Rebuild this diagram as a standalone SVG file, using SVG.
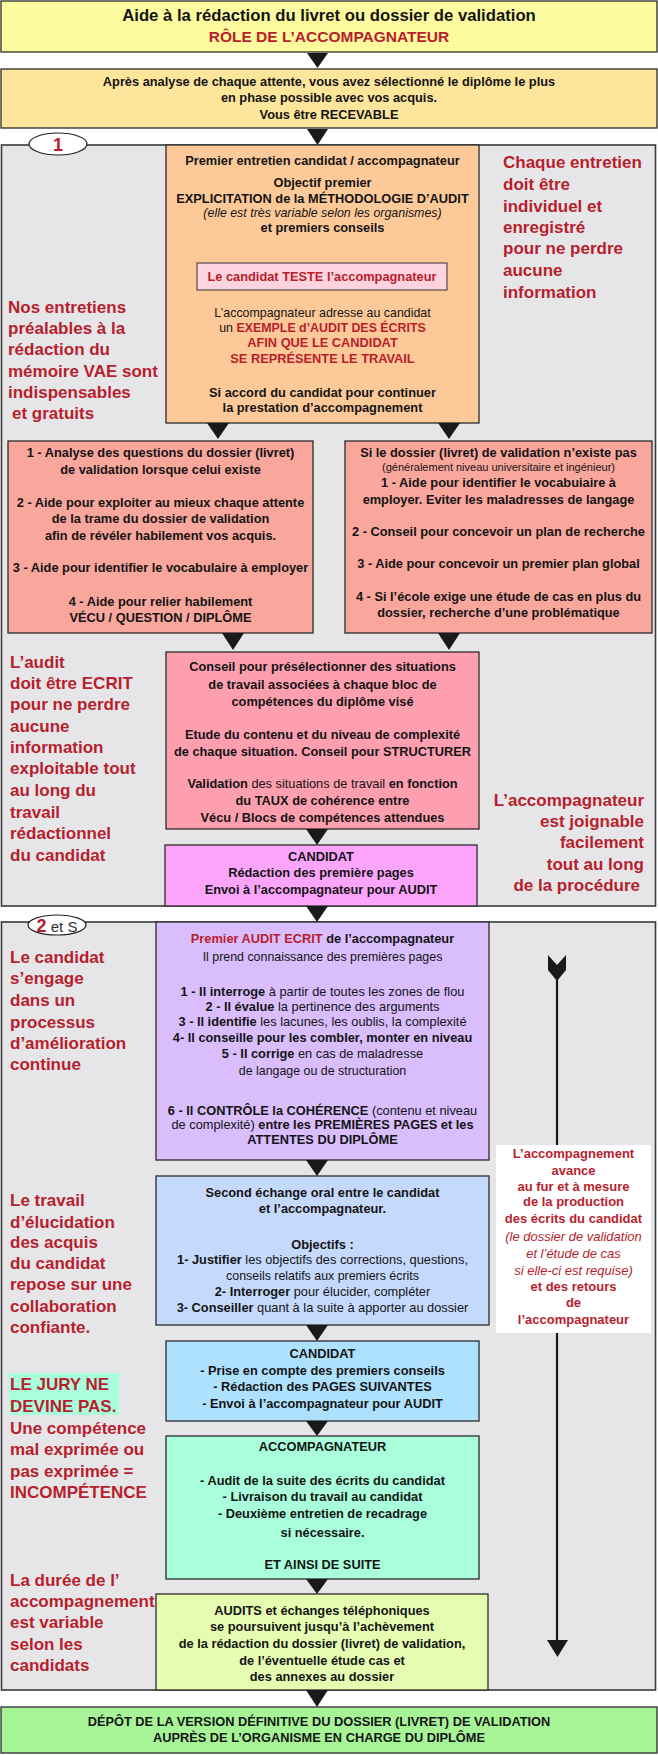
<svg xmlns="http://www.w3.org/2000/svg" width="658" height="1755" viewBox="0 0 658 1755">
<style>
text{font-family:'Liberation Sans',Arial,sans-serif;fill:#141414}
.b{font-size:12.8px;font-weight:bold;text-anchor:middle}
.n{font-size:12.4px;font-weight:normal;text-anchor:middle}
.s{font-size:17px;font-weight:bold;fill:#b81e2d}
.w{font-size:13px;font-weight:bold;fill:#b81e2d;text-anchor:middle}
.i{font-style:italic;font-weight:normal}
.red{fill:#b81e2d}
.rg{font-weight:normal}
.bd{font-weight:bold}
.box{stroke:#2b2b2b;stroke-width:1.3}
.sec{fill:#e6e6e8;stroke:#3a3a3a;stroke-width:1.6}
.arr{fill:#1a1a1a}
</style>

<g id="title">
<rect class="box" x="1" y="1" width="656" height="51" fill="#fdfb9e"/>
<text x="329" y="21" style="font-size:16.7px;font-weight:bold;text-anchor:middle">Aide à la rédaction du livret ou dossier de validation</text>
<text x="329" y="42" class="red" style="font-size:15.5px;font-weight:bold;text-anchor:middle">RÔLE DE L’ACCOMPAGNATEUR</text>
</g>

<g id="recevable">
<rect class="box" x="1" y="69" width="656" height="59" fill="#fde59c"/>
<text class="b" x="329" y="86">Après analyse de chaque attente, vous avez sélectionné le diplôme le plus</text>
<text class="b" x="329" y="102">en phase possible avec vos acquis.</text>
<text class="b" x="329" y="119">Vous être RECEVABLE</text>
</g>

<g id="section1">
<rect class="sec" x="1.5" y="145" width="654" height="761"/>
<ellipse cx="58" cy="144" rx="29" ry="11" fill="#fff" stroke="#222" stroke-width="1.2"/>
<text x="58" y="151" class="red" style="font-size:18px;font-weight:bold;text-anchor:middle">1</text>
</g>

<g id="note-entretiens">
<text class="s" x="8" y="313">Nos entretiens</text>
<text class="s" x="8" y="334">préalables à la</text>
<text class="s" x="8" y="355">rédaction du</text>
<text class="s" x="8" y="377">mémoire VAE sont</text>
<text class="s" x="8" y="398">indispensables</text>
<text class="s" x="12" y="419">et  gratuits</text>
</g>

<g id="note-chaque">
<text class="s" x="503" y="168">Chaque entretien</text>
<text class="s" x="503" y="190">doit être</text>
<text class="s" x="503" y="212">individuel et</text>
<text class="s" x="503" y="233">enregistré</text>
<text class="s" x="503" y="254">pour ne perdre</text>
<text class="s" x="503" y="276">aucune</text>
<text class="s" x="503" y="298">information</text>
</g>

<g id="premier-entretien">
<rect class="box" x="166" y="145" width="313" height="278" fill="#fdc998"/>
<text class="b" x="322.5" y="165">Premier entretien candidat / accompagnateur</text>
<text class="b" x="322.5" y="187">Objectif premier</text>
<text class="b" x="322.5" y="203">EXPLICITATION de la MÉTHODOLOGIE D’AUDIT</text>
<text class="n i" x="322.5" y="217">(elle est très variable selon les organismes)</text>
<text class="b" x="322.5" y="232">et premiers conseils</text>
<rect x="197" y="263" width="250" height="27" fill="#fcd3de" stroke="#333" stroke-width="1"/>
<text class="b red" x="322" y="281">Le candidat TESTE l’accompagnateur</text>
<text class="n" x="322.5" y="317">L’accompagnateur adresse au candidat</text>
<text class="n" x="322.5" y="332">un <tspan class="red bd">EXEMPLE d’AUDIT DES ÉCRITS</tspan></text>
<text class="b red" x="322.5" y="347">AFIN QUE LE CANDIDAT</text>
<text class="b red" x="322.5" y="363">SE REPRÉSENTE LE TRAVAIL</text>
<text class="b" x="322.5" y="397">Si accord du candidat  pour continuer</text>
<text class="b" x="322.5" y="412">la prestation d’accompagnement</text>
</g>

<g id="avec-livret">
<rect class="box" x="8" y="441" width="305" height="192" fill="#f9a69c"/>
<text class="b" x="160.5" y="457">1 - Analyse des questions du dossier (livret)</text>
<text class="b" x="160.5" y="474">de validation lorsque celui existe</text>
<text class="b" x="160.5" y="507">2 - Aide pour exploiter au mieux chaque attente</text>
<text class="b" x="160.5" y="523">de la trame du dossier de validation</text>
<text class="b" x="160.5" y="540">afin de révéler habilement vos acquis.</text>
<text class="b" x="160.5" y="572">3 - Aide pour identifier le vocabulaire à employer</text>
<text class="b" x="160.5" y="606">4 - Aide pour relier habilement</text>
<text class="b" x="160.5" y="622">VÉCU / QUESTION / DIPLÔME</text>
</g>

<g id="sans-livret">
<rect class="box" x="345" y="441" width="307" height="192" fill="#f9a69c"/>
<text class="b" x="498.5" y="457">Si le dossier (livret) de validation n’existe pas</text>
<text class="n" x="498.5" y="470.5" style="font-size:11px">(généralement niveau universitaire et ingénieur)</text>
<text class="b" x="498.5" y="487">1 - Aide pour identifier le vocabuiaire à</text>
<text class="b" x="498.5" y="504">employer. Eviter les maladresses de langage</text>
<text class="b" x="498.5" y="536">2 - Conseil pour concevoir un plan de recherche</text>
<text class="b" x="498.5" y="568">3 - Aide pour concevoir un premier plan global</text>
<text class="b" x="498.5" y="601">4 - Si l’école exige une étude de cas en plus du</text>
<text class="b" x="498.5" y="617">dossier, recherche d’une problématique</text>
</g>

<g id="situations">
<rect class="box" x="166" y="652" width="313" height="177" fill="#fe9fb0"/>
<text class="b" x="322.5" y="671">Conseil pour présélectionner des situations</text>
<text class="b" x="322.5" y="689">de travail associées à chaque bloc de</text>
<text class="b" x="322.5" y="706">compétences du diplôme visé</text>
<text class="b" x="322.5" y="739">Etude du contenu et du niveau de complexité</text>
<text class="b" x="322.5" y="756">de chaque  situation. Conseil pour STRUCTURER</text>
<text class="b" x="322.5" y="788">Validation<tspan class="rg"> des situations de travail </tspan>en fonction</text>
<text class="b" x="322.5" y="805">du TAUX de cohérence entre</text>
<text class="b" x="322.5" y="822">Vécu / Blocs de compétences attendues</text>
</g>

<g id="candidat-1">
<rect class="box" x="165" y="845" width="312" height="61" fill="#fda5fc"/>
<text class="b" x="321" y="861">CANDIDAT</text>
<text class="b" x="321" y="877">Rédaction des première pages</text>
<text class="b" x="321" y="894">Envoi à l’accompagnateur pour AUDIT</text>
</g>

<g id="note-audit">
<text class="s" x="10" y="668">L’audit</text>
<text class="s" x="10" y="689">doit être ECRIT</text>
<text class="s" x="10" y="710">pour ne perdre</text>
<text class="s" x="10" y="732">aucune</text>
<text class="s" x="10" y="753">information</text>
<text class="s" x="10" y="774">exploitable tout</text>
<text class="s" x="10" y="796">au long du</text>
<text class="s" x="10" y="818">travail</text>
<text class="s" x="10" y="839">rédactionnel</text>
<text class="s" x="10" y="861">du candidat</text>
</g>

<g id="note-joignable">
<text class="s" x="644" y="806" style="text-anchor:end">L’accompagnateur</text>
<text class="s" x="644" y="827" style="text-anchor:end">est joignable</text>
<text class="s" x="644" y="848" style="text-anchor:end">facilement</text>
<text class="s" x="644" y="870" style="text-anchor:end">tout au long</text>
<text class="s" x="640" y="891" style="text-anchor:end">de la procédure</text>
</g>

<g id="section2">
<rect class="sec" x="1.5" y="922" width="654" height="768"/>
</g>

<g id="premier-audit">
<rect class="box" x="156" y="922" width="333" height="238" fill="#d9bdfd"/>
<text class="b" x="322.5" y="943"><tspan class="red">Premier AUDIT ECRIT</tspan> de l’accompagnateur</text>
<text class="n" x="322.5" y="961">Il prend connaissance des premières pages</text>
<text class="b" x="322.5" y="996">1 - Il interroge<tspan class="rg"> à partir  de toutes les zones de flou</tspan></text>
<text class="b" x="322.5" y="1011">2 - Il évalue<tspan class="rg"> la pertinence des arguments</tspan></text>
<text class="b" x="322.5" y="1026">3 - Il identifie<tspan class="rg"> les lacunes, les oublis, la complexité</tspan></text>
<text class="b" x="322.5" y="1042">4- Il conseille pour les combler, monter en niveau</text>
<text class="b" x="322.5" y="1058">5 - Il corrige<tspan class="rg"> en cas de maladresse</tspan></text>
<text class="n" x="322.5" y="1075">de langage ou de structuration</text>
<text class="b" x="322.5" y="1115">6 - Il CONTRÔLE la COHÉRENCE<tspan class="rg"> (contenu et niveau</tspan></text>
<text class="b" x="322.5" y="1129"><tspan class="rg">de complexité)</tspan> entre les PREMIÈRES PAGES et les</text>
<text class="b" x="322.5" y="1144">ATTENTES DU DIPLÔME</text>
</g>

<g id="second-echange">
<rect class="box" x="156" y="1176" width="333" height="149" fill="#c5d9fc"/>
<text class="b" x="322.5" y="1197">Second échange oral entre le candidat</text>
<text class="b" x="322.5" y="1213">et l’accompagnateur.</text>
<text class="b" x="322.5" y="1249">Objectifs :</text>
<text class="b" x="322.5" y="1264">1- Justifier<tspan class="rg"> les objectifs des corrections, questions,</tspan></text>
<text class="n" x="322.5" y="1280">conseils relatifs aux premiers  écrits</text>
<text class="b" x="322.5" y="1296">2- Interroger<tspan class="rg"> pour élucider, compléter</tspan></text>
<text class="b" x="322.5" y="1312">3- Conseiller<tspan class="rg"> quant à la suite à apporter au dossier</tspan></text>
</g>

<g id="candidat-2">
<rect class="box" x="166" y="1341" width="313" height="80" fill="#aee1fd"/>
<text class="b" x="322.5" y="1358">CANDIDAT</text>
<text class="b" x="322.5" y="1375">- Prise en compte des premiers conseils</text>
<text class="b" x="322.5" y="1391">- Rédaction des  PAGES SUIVANTES</text>
<text class="b" x="322.5" y="1408">- Envoi à l’accompagnateur pour AUDIT</text>
</g>

<g id="accompagnateur">
<rect class="box" x="166" y="1436" width="313" height="143" fill="#a9fedc"/>
<text class="b" x="322.5" y="1451">ACCOMPAGNATEUR</text>
<text class="b" x="322.5" y="1485">- Audit de la suite des écrits du candidat</text>
<text class="b" x="322.5" y="1501">- Livraison du travail au candidat</text>
<text class="b" x="322.5" y="1518">- Deuxième entretien  de recadrage</text>
<text class="b" x="322.5" y="1537">si nécessaire.</text>
<text class="b" x="322.5" y="1569">ET AINSI DE SUITE</text>
</g>

<g id="audits-suite">
<rect class="box" x="156" y="1594" width="332" height="96" fill="#e6fdb1"/>
<text class="b" x="322" y="1615">AUDITS et échanges téléphoniques</text>
<text class="b" x="322" y="1631">se poursuivent jusqu’à l’achèvement</text>
<text class="b" x="322" y="1648">de la rédaction du dossier (livret) de validation,</text>
<text class="b" x="322" y="1665">de l’éventuelle étude cas et</text>
<text class="b" x="322" y="1681">des annexes au dossier</text>
</g>

<g id="depot">
<rect class="box" x="1" y="1707" width="656" height="46" fill="#a7f497"/>
<text class="b" x="319" y="1726">DÉPÔT DE LA VERSION DÉFINITIVE DU DOSSIER (LIVRET) DE  VALIDATION</text>
<text class="b" x="319" y="1742">AUPRÈS DE L’ORGANISME EN CHARGE DU DIPLÔME</text>
</g>

<g id="label-2">
<ellipse cx="57" cy="925" rx="29" ry="10" fill="#fff" stroke="#222" stroke-width="1.2"/>
<text x="57" y="932" style="text-anchor:middle"><tspan class="red" style="font-size:18px;font-weight:bold">2</tspan><tspan style="font-size:15px;fill:#333"> et S</tspan></text>
</g>

<g id="note-engage">
<text class="s" x="10" y="963">Le candidat</text>
<text class="s" x="10" y="984">s’engage</text>
<text class="s" x="10" y="1006">dans un</text>
<text class="s" x="10" y="1028">processus</text>
<text class="s" x="10" y="1049">d’amélioration</text>
<text class="s" x="10" y="1070">continue</text>
</g>

<g id="note-elucidation">
<text class="s" x="10" y="1206">Le travail</text>
<text class="s" x="10" y="1228">d’élucidation</text>
<text class="s" x="10" y="1248">des acquis</text>
<text class="s" x="10" y="1269">du candidat</text>
<text class="s" x="10" y="1290">repose sur une</text>
<text class="s" x="10" y="1312">collaboration</text>
<text class="s" x="10" y="1333">confiante.</text>
</g>

<g id="note-jury">
<rect x="9" y="1373" width="110" height="42" fill="#a9fedc"/>
<text class="s" x="10" y="1390">LE JURY NE</text>
<text class="s" x="10" y="1412">DEVINE PAS.</text>
<text class="s" x="10" y="1434">Une compétence</text>
<text class="s" x="10" y="1455">mal exprimée ou</text>
<text class="s" x="10" y="1477">pas exprimée =</text>
<text class="s" x="10" y="1498">INCOMPÉTENCE</text>
</g>

<g id="note-duree">
<text class="s" x="10" y="1586">La durée de l’</text>
<text class="s" x="10" y="1607">accompagnement</text>
<text class="s" x="10" y="1628">est variable</text>
<text class="s" x="10" y="1650">selon les</text>
<text class="s" x="10" y="1671">candidats</text>
</g>

<g id="connectors">
<polygon class="arr" points="307,53 328,53 317.5,68"/>
<polygon class="arr" points="307,129 328,129 317.5,145"/>
<polygon class="arr" points="207,423 229,423 218,439"/>
<polygon class="arr" points="438,423 460,423 449,439"/>
<polygon class="arr" points="222,633 244,633 233,650"/>
<polygon class="arr" points="438,633 460,633 449,650"/>
<polygon class="arr" points="306,829 328,829 317,845"/>
<polygon class="arr" points="306,906 328,906 317,922"/>
<polygon class="arr" points="306,1160 328,1160 317,1176"/>
<polygon class="arr" points="306,1325 328,1325 317,1341"/>
<polygon class="arr" points="306,1421 328,1421 317,1436"/>
<polygon class="arr" points="306,1579 328,1579 317,1594"/>
<polygon class="arr" points="306,1690 328,1690 317,1707"/>
<line x1="557" y1="975" x2="557" y2="1642" stroke="#1a1a1a" stroke-width="2.2"/>
<polygon class="arr" points="548,955 557,965 566,955 566,970 557,981 548,970"/>
<polygon class="arr" points="547,1640 568,1640 557.5,1657"/>
</g>

<g id="note-avance">
<rect x="496" y="1145" width="155" height="188" fill="#ffffff"/>
<text class="w" x="573.5" y="1158">L’accompagnement</text>
<text class="w" x="573.5" y="1175">avance</text>
<text class="w" x="573.5" y="1191">au fur et à mesure</text>
<text class="w" x="573.5" y="1206">de la production</text>
<text class="w" x="573.5" y="1223">des écrits du candidat</text>
<text class="w i" x="573.5" y="1241">(le dossier de validation</text>
<text class="w i" x="573.5" y="1258">et l’étude de cas</text>
<text class="w i" x="573.5" y="1275">si elle-ci est requise)</text>
<text class="w" x="573.5" y="1291">et des retours</text>
<text class="w" x="573.5" y="1307">de</text>
<text class="w" x="573.5" y="1324">l’accompagnateur</text>
</g>
</svg>
